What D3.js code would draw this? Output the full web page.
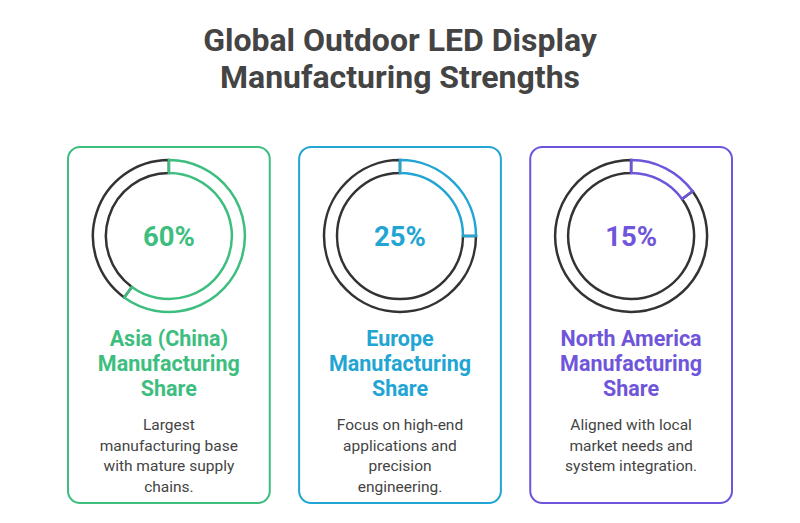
<!DOCTYPE html>
<html>
<head>
<meta charset="utf-8">
<script src="https://cdn.jsdelivr.net/npm/d3@7"></script>
<style>
  body { margin: 0; background: #fff; }
  svg { font-family: Roboto, "Noto Sans", sans-serif; }
</style>
</head>
<body>
<svg id="chart" width="800" height="523"></svg>
<script>
// chart data
var titleLines = ['Global Outdoor LED Display', 'Manufacturing Strengths'];
var regions = ['Asia (China)', 'Europe', 'North America'];
var shares = [60, 25, 15];
var labelLines = [
  ['Asia (China)', 'Manufacturing', 'Share'],
  ['Europe', 'Manufacturing', 'Share'],
  ['North America', 'Manufacturing', 'Share']
];
var descLines = [
  ['Largest', 'manufacturing base', 'with mature supply', 'chains.'],
  ['Focus on high-end', 'applications and', 'precision', 'engineering.'],
  ['Aligned with local', 'market needs and', 'system integration.']
];
var colors = ['#3dbe7f', '#22a5d3', '#6f55da'];

var svg = d3.select('#chart');
var width = +svg.attr('width');

// title
svg.append('g').selectAll('text')
  .data(titleLines)
  .enter().append('text')
  .attr('x', width / 2)
  .attr('y', function (d, i) { return 51 + i * 37; })
  .attr('text-anchor', 'middle')
  .attr('font-size', 32)
  .attr('font-weight', 700)
  .attr('fill', '#444')
  .text(function (d) { return d; });

// card positions
var x = d3.scaleBand()
  .domain(regions)
  .range([68, 732])
  .paddingInner(0.127);

var cardTop = 147, cardH = 356;
var ringCy = 236, rOut = 76, rIn = 63;

// maps percent to angle (start at top, clockwise)
var angle = d3.scaleLinear().domain([0, 100]).range([0, 2 * Math.PI]);
var arc = d3.arc().innerRadius(rIn).outerRadius(rOut);

var cards = svg.selectAll('.card')
  .data(regions)
  .enter().append('g')
  .attr('class', 'card')
  .attr('transform', function (d) { return 'translate(' + x(d) + ',0)'; });

cards.append('rect')
  .attr('x', 0)
  .attr('y', cardTop)
  .attr('width', x.bandwidth())
  .attr('height', cardH)
  .attr('rx', 12)
  .attr('fill', '#fff')
  .attr('stroke', function (d, i) { return colors[i]; })
  .attr('stroke-width', 2);

var ring = cards.append('g')
  .attr('transform', 'translate(' + (x.bandwidth() / 2) + ',' + ringCy + ')');

// remaining part in dark outline
ring.append('path')
  .attr('d', function (d, i) {
    return arc({ startAngle: angle(shares[i]), endAngle: angle(100) });
  })
  .attr('fill', 'none')
  .attr('stroke', '#333')
  .attr('stroke-width', 2.5);

// share part in colour outline
ring.append('path')
  .attr('d', function (d, i) {
    return arc({ startAngle: 0, endAngle: angle(shares[i]) });
  })
  .attr('fill', 'none')
  .attr('stroke', function (d, i) { return colors[i]; })
  .attr('stroke-width', 2.5);

ring.append('text')
  .attr('y', 10)
  .attr('text-anchor', 'middle')
  .attr('font-size', 27.5)
  .attr('font-weight', 700)
  .attr('fill', function (d, i) { return colors[i]; })
  .text(function (d, i) { return shares[i] + '%'; });

// label lines
cards.each(function (d, i) {
  var g = d3.select(this);
  g.selectAll('.label')
    .data(labelLines[i])
    .enter().append('text')
    .attr('class', 'label')
    .attr('x', x.bandwidth() / 2)
    .attr('y', function (t, j) { return 346 + j * 25; })
    .attr('text-anchor', 'middle')
    .attr('font-size', 21.5)
    .attr('font-weight', 700)
    .attr('fill', colors[i])
    .text(function (t) { return t; });

  g.selectAll('.desc')
    .data(descLines[i])
    .enter().append('text')
    .attr('class', 'desc')
    .attr('x', x.bandwidth() / 2)
    .attr('y', function (t, j) { return 430 + j * 20.5; })
    .attr('text-anchor', 'middle')
    .attr('font-size', 15.5)
    .attr('fill', '#444')
    .text(function (t) { return t; });
});
</script>
</body>
</html>
